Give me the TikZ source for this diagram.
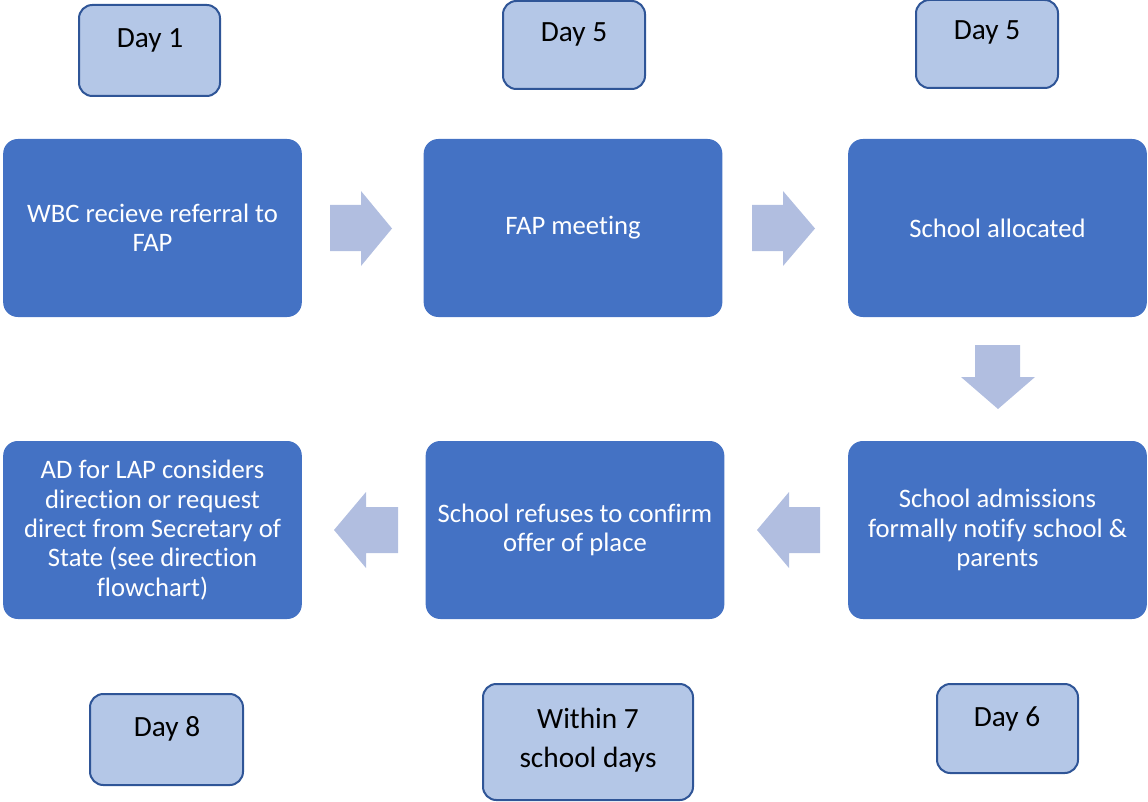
\documentclass[tikz,border=0pt]{standalone}
\usepackage{fontspec}
\setmainfont{Carlito}[Ligatures=NoCommon]
\definecolor{mainblue}{HTML}{4472C4}
\definecolor{lightfill}{HTML}{B4C7E7}
\definecolor{lightborder}{HTML}{2F5597}
\definecolor{arrowfill}{HTML}{B1BEE0}
\begin{document}
\begin{tikzpicture}[x=0.75pt,y=-0.75pt,
  mainbox/.style={rounded corners=11pt, fill=mainblue, draw=none, minimum width=224pt, minimum height=133.5pt, inner sep=0pt},
  maintext/.style={text=white, align=center, font=\fontsize{20}{22}\selectfont, inner sep=0pt},
  daybox/.style={rounded corners=10pt, fill=lightfill, draw=lightborder, line width=1.5pt, inner sep=0pt},
  daytext/.style={text=black, align=center, font=\fontsize{22}{29}\selectfont, inner sep=0pt},
  blockarrow/.style={fill=arrowfill, draw=none}]
\useasboundingbox (0,0) rectangle (1148,802);

% main boxes
\node[mainbox] (b1) at (152.5,228) {};
\node[mainbox] (b2) at (573,228) {};
\node[mainbox] (b3) at (997.5,228) {};
\node[mainbox] (b4) at (152.5,530) {};
\node[mainbox] (b5) at (575,530) {};
\node[mainbox] (b6) at (997.5,530) {};

\node[maintext] (t1) at (152.5,228) {WBC recieve referral to\\FAP};
\node[maintext] (t2) at (573,228) {FAP meeting};
\node[maintext] (t3) at (997.5,228) {School allocated};
\node[maintext] (t4) at (152.5,530) {AD for LAP considers\\direction or request\\direct from Secretary of\\State (see direction\\flowchart)};
\node[maintext] (t5) at (575,530) {School refuses to confirm\\offer of place};
\node[maintext] (t6) at (997.5,530) {School admissions\\formally notify school \&\\parents};

% day boxes
\node[daybox, minimum width=105.75pt, minimum height=68.25pt] (d1) at (149.5,50.5) {};
\node[daybox, minimum width=106.5pt, minimum height=66pt] (d2) at (574,45) {};
\node[daybox, minimum width=106.5pt, minimum height=66pt] (d3) at (987,44) {};
\node[daybox, minimum width=114.75pt, minimum height=68.25pt] (d4) at (166.5,739.5) {};
\node[daybox, minimum width=157.5pt, minimum height=87pt] (d5) at (588,742) {};
\node[daybox, minimum width=105.75pt, minimum height=66.75pt] (d6) at (1007.5,728.5) {};

\node[daytext] (l1) at (150,40) {Day 1};
\node[daytext] (l2) at (574,34) {Day 5};
\node[daytext] (l3) at (987,32) {Day 5};
\node[daytext] (l4) at (167,729) {Day 8};
\node[daytext] (l5) at (588,740) {Within 7\\school days};
\node[daytext] (l6) at (1007,719) {Day 6};

% block arrows
\fill[blockarrow] (330,205) -- (361,205) -- (361,191) -- (392,228.5) -- (361,266) -- (361,251) -- (330,251) -- cycle;
\fill[blockarrow] (752,205) -- (783,205) -- (783,191) -- (815,228.5) -- (783,266) -- (783,251) -- (752,251) -- cycle;
\fill[blockarrow] (975,345) -- (1020,345) -- (1020,377) -- (1035,377) -- (998,409) -- (961,377) -- (975,377) -- cycle;
\fill[blockarrow] (820,507) -- (789,507) -- (789,492) -- (757,530) -- (789,568) -- (789,553) -- (820,553) -- cycle;
\fill[blockarrow] (398,507) -- (366,507) -- (366,492) -- (334,530) -- (366,568) -- (366,553) -- (398,553) -- cycle;
\end{tikzpicture}
\end{document}
